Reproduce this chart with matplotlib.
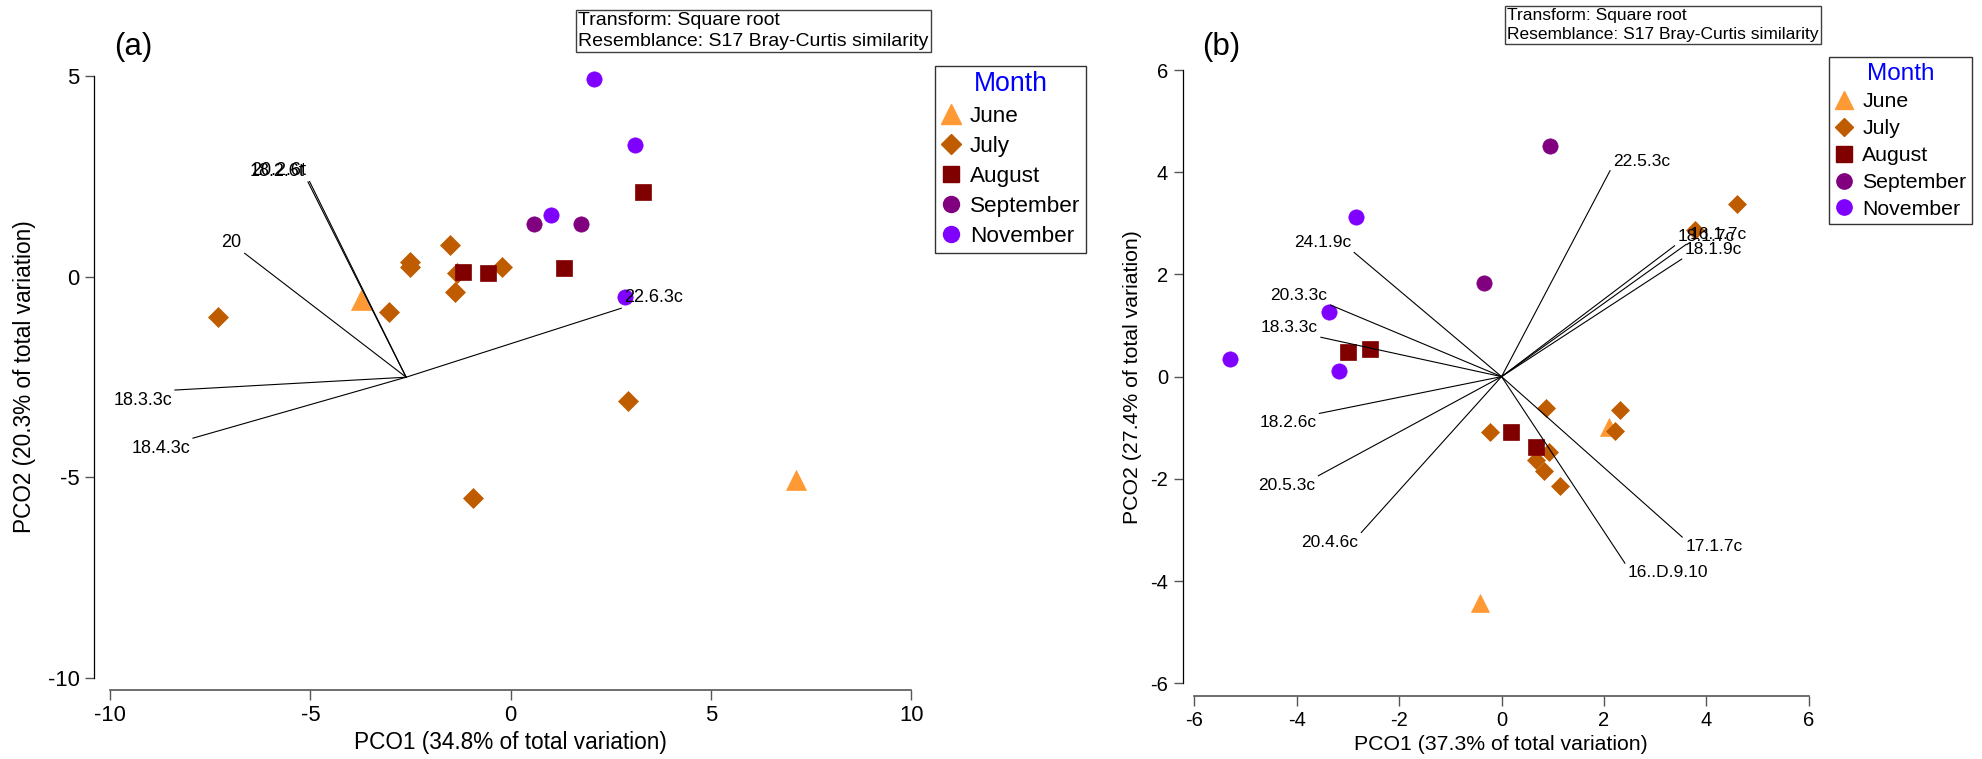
import matplotlib
matplotlib.use("Agg")
import matplotlib.pyplot as plt
from matplotlib.lines import Line2D
import numpy as np

plt.rcParams['font.family'] = ['Liberation Sans', 'DejaVu Sans']

months = ["June", "July", "August", "September", "November"]
month_colors = ["#FF9933", "#C05C00", "#800000", "#800080", "#8000FF"]
month_markers = ["^", "D", "s", "o", "o"]

# ---- panel (a): PCO scores ----
a_june = np.array([[-3.73, -0.57], [7.13, -5.06]])
a_july = np.array([[-7.30, -1.01], [-3.03, -0.87], [-2.52, 0.38], [-2.52, 0.25],
                   [-1.51, 0.80], [-1.40, -0.37], [-1.33, 0.09], [-0.22, 0.25],
                   [2.93, -3.09], [-0.95, -5.50]])
a_august = np.array([[-1.19, 0.13], [-0.56, 0.09], [1.34, 0.22], [3.30, 2.11]])
a_september = np.array([[0.59, 1.31], [1.76, 1.31]])
a_november = np.array([[2.08, 4.93], [3.09, 3.29], [1.00, 1.55], [2.85, -0.51]])

# vector overlay (a)
a_origin = (-2.61, -2.50)
a_vec_labels = ["20.2.6t", "18.2.6t", "20", "18.3.3c", "18.4.3c", "22.6.3c"]
a_vec_x = [-5.02, -5.06, -6.64, -8.38, -7.93, 2.76]
a_vec_y = [2.38, 2.37, 0.59, -2.82, -4.02, -0.78]

# ---- panel (b): PCO scores ----
b_june = np.array([[2.10, -0.99], [-0.43, -4.43]])
b_july = np.array([[4.60, 3.37], [3.77, 2.87], [0.87, -0.62], [2.32, -0.66],
                   [2.22, -1.06], [-0.23, -1.09], [0.92, -1.48], [0.67, -1.63],
                   [0.83, -1.84], [1.14, -2.14]])
b_august = np.array([[-3.00, 0.48], [-2.58, 0.54], [0.18, -1.08], [0.67, -1.37]])
b_september = np.array([[0.95, 4.52], [-0.35, 1.84]])
b_november = np.array([[-2.85, 3.13], [-3.37, 1.27], [-5.30, 0.35], [-3.17, 0.11]])

# vector overlay (b)
b_origin = (0.0, 0.0)
b_vec_labels = ["22.5.3c", "24.1.9c", "20.3.3c", "18.3.3c", "18.2.6c", "20.5.3c",
                "20.4.6c", "18.1.7c", "16.1.7c", "18.1.9c", "17.1.7c", "16..D.9.10"]
b_vec_x = [2.12, -2.88, -3.34, -3.53, -3.56, -3.58, -2.74, 3.38, 3.61, 3.52, 3.53, 2.41]
b_vec_y = [4.03, 2.43, 1.40, 0.77, -0.72, -1.94, -3.05, 2.56, 2.59, 2.30, -3.14, -3.65]

W, H = 1982, 759
fig = plt.figure(figsize=(W / 100, H / 100), dpi=100)


def px(x0, y0, x1, y1):
    # figure-pixel box (top-left origin) -> fig fraction rect
    return [x0 / W, 1 - y1 / H, (x1 - x0) / W, (y1 - y0) / H]


def panel(rect, xlim, ylim, xb, yb, xticks, yticks, groups, sizes, origin,
          vlab, vx, vy, vfs, tfs):
    ax = fig.add_axes(rect)
    ax.set_xlim(*xlim)
    ax.set_ylim(*ylim)
    for pts, c, m, s in zip(groups, month_colors, month_markers, sizes):
        ax.plot(pts[:, 0], pts[:, 1], ls="none", marker=m, ms=s, mfc=c, mec=c,
                mew=0.5, clip_on=False)
    for lab, ex, ey in zip(vlab, vx, vy):
        ax.plot([origin[0], ex], [origin[1], ey], color="black", lw=0.8)
        dx, dy = ex - origin[0], ey - origin[1]
        ax.annotate(lab, (ex, ey), xytext=(2.2 if dx > 0 else -2.2, 1.5 if dy > 0 else -1.5),
                    textcoords="offset points", ha="left" if dx > 0 else "right",
                    va="bottom" if dy > 0 else "top", fontsize=vfs)
    for s in ["top", "right"]:
        ax.spines[s].set_visible(False)
    ax.spines["left"].set_bounds(*yb)
    ax.spines["bottom"].set_bounds(*xb)
    ax.spines["bottom"].set_color("#555555")
    ax.spines["left"].set_linewidth(0.9)
    ax.spines["bottom"].set_linewidth(1.2)
    ax.set_xticks(xticks)
    ax.set_yticks(yticks)
    ax.set_xticklabels([f"{t:g}" for t in xticks])
    ax.set_yticklabels([f"{t:g}" for t in yticks])
    ax.tick_params(axis="x", direction="out", length=7, width=1, color="#555555",
                   labelsize=tfs, pad=4)
    ax.tick_params(axis="y", direction="out", length=6.5, width=1, color="#555555",
                   labelsize=tfs, pad=4)
    ax.patch.set_visible(False)
    return ax


ax_a = panel(px(94, 16.3, 923.4, 690), (-10.4, 10.3), (-10.3, 6.5), (-10, 10), (-10, 5),
             [-10, -5, 0, 5, 10], [-10, -5, 0, 5],
             [a_june, a_july, a_august, a_september, a_november],
             [14, 10, 12, 11, 11], a_origin, a_vec_labels, a_vec_x, a_vec_y, 13, 15.8)
ax_b = panel(px(1182.7, 8.7, 1824, 696), (-6.23, 6.3), (-6.25, 7.2), (-6, 6), (-6, 6),
             [-6, -4, -2, 0, 2, 4, 6], [-6, -4, -2, 0, 2, 4, 6],
             [b_june, b_july, b_august, b_september, b_november],
             [12.5, 8.8, 11, 11, 11], b_origin, b_vec_labels, b_vec_x, b_vec_y, 12.5, 14.5)

# axis titles
fig.text(510.7 / W, 1 - 743 / H, "PCO1 (34.8% of total variation)", ha="center",
         va="center", fontsize=16.3)
fig.text(25 / W, 1 - 377 / H, "PCO2 (20.3% of total variation)", ha="center",
         va="center", rotation=90, fontsize=16.3)
fig.text(1501.3 / W, 1 - 745 / H, "PCO1 (37.3% of total variation)", ha="center",
         va="center", fontsize=15.3)
fig.text(1132 / W, 1 - 377.5 / H, "PCO2 (27.4% of total variation)", ha="center",
         va="center", rotation=90, fontsize=15.3)

# panel letters
fig.text(133 / W, 1 - 47 / H, "(a)", ha="center", va="center", fontsize=22.5)
fig.text(1221.5 / W, 1 - 47 / H, "(b)", ha="center", va="center", fontsize=22.5)

# info boxes
fig.text(578 / W, 1 - 12 / H,
         "Transform: Square root\nResemblance: S17 Bray-Curtis similarity",
         ha="left", va="top", fontsize=14.0, linespacing=1.3,
         bbox=dict(boxstyle="square,pad=0.12", fc="white", ec="#404040", lw=1))
fig.text(1507 / W, 1 - 8 / H,
         "Transform: Square root\nResemblance: S17 Bray-Curtis similarity",
         ha="left", va="top", fontsize=12.5, linespacing=1.33,
         bbox=dict(boxstyle="square,pad=0.12", fc="white", ec="#404040", lw=1))


def month_legend(ax, anchor, fs, tfs, sizes, spacing):
    handles = [Line2D([], [], ls="none", marker=m, ms=s, mfc=c, mec=c)
               for m, c, s in zip(month_markers, month_colors, sizes)]
    leg = ax.legend(handles, months, loc="upper left", bbox_to_anchor=anchor,
                    bbox_transform=fig.transFigure, borderaxespad=0, fontsize=fs,
                    title="Month", title_fontsize=tfs, frameon=True, fancybox=False,
                    framealpha=1, edgecolor="#333333", borderpad=0.25,
                    handlelength=0.9, handletextpad=0.4, labelspacing=spacing)
    leg.get_title().set_color("#0000FF")
    leg.get_frame().set_linewidth(1)
    return leg


month_legend(ax_a, (935 / W, 1 - 65.7 / H), 16.2, 19.2, [14, 10, 12, 11.5, 11.5], 0.4)
month_legend(ax_b, (1829.3 / W, 1 - 57.3 / H), 15.3, 17.5, [13, 9.5, 11, 11, 11], 0.37)

fig.savefig("out.png", dpi=100)
